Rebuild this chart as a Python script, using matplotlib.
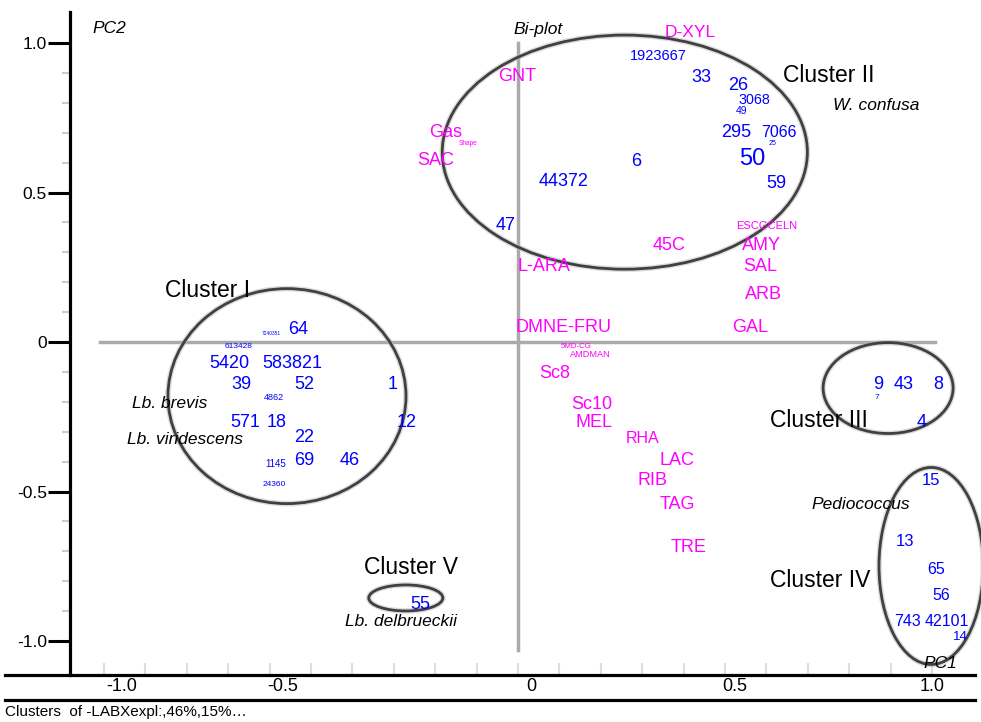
import matplotlib
matplotlib.use('Agg')
import matplotlib.pyplot as plt
from matplotlib.patches import Ellipse
from matplotlib.ticker import FixedLocator

plt.rcParams['font.family'] = ['Liberation Sans', 'DejaVu Sans']

# variables (magenta)
var_names = ['D-XYL', 'GNT', 'Gas', 'Shape', 'SAC', 'ESCGCELN', 'AMY', 'SAL', 'ARB',
             '45C', 'L-ARA', 'DMNE-FRU', 'GAL', '5MD-CG', 'AMDMAN', 'Sc8', 'Sc10',
             'MEL', 'RHA', 'LAC', 'RIB', 'TAG', 'TRE']
var_x = [0.415, -0.002, -0.174, -0.121, -0.198, 0.601, 0.589, 0.585, 0.592,
         0.365, 0.063, 0.111, 0.560, 0.140, 0.174, 0.089, 0.179,
         0.184, 0.302, 0.384, 0.324, 0.386, 0.413]
var_y = [1.040, 0.893, 0.706, 0.666, 0.615, 0.391, 0.331, 0.258, 0.167,
         0.331, 0.258, 0.054, 0.054, -0.013, -0.040, -0.100, -0.201,
         -0.264, -0.318, -0.388, -0.458, -0.538, -0.682]

# cases (blue)
case_names = ['1923667', '33', '26', '3068', '49', '295', '7066', '25', '50', '6',
              '44372', '59', '47',
              '64', '7240351', '613428', '5420', '583821', '39', '52', '1', '4862',
              '571', '18', '12', '22', '1145', '69', '46', '24360',
              '9', '7', '43', '8', '4',
              '15', '13', '65', '56', '743', '42101', '14', '55']
case_x = [0.338, 0.444, 0.531, 0.572, 0.541, 0.527, 0.630, 0.614, 0.565, 0.285,
          0.111, 0.623, -0.031,
          -0.531, -0.597, -0.674, -0.698, -0.546, -0.669, -0.517, -0.302, -0.589,
          -0.659, -0.582, -0.268, -0.517, -0.585, -0.517, -0.406, -0.589,
          0.870, 0.867, 0.932, 1.014, 0.976,
          0.998, 0.935, 1.010, 1.022, 0.940, 1.036, 1.068, -0.237]
case_y = [0.963, 0.890, 0.866, 0.813, 0.776, 0.706, 0.706, 0.666, 0.619, 0.612,
          0.542, 0.538, 0.398,
          0.050, 0.030, -0.013, -0.064, -0.064, -0.134, -0.134, -0.134, -0.181,
          -0.264, -0.264, -0.264, -0.314, -0.405, -0.391, -0.391, -0.472,
          -0.134, -0.181, -0.134, -0.134, -0.264,
          -0.458, -0.662, -0.756, -0.843, -0.930, -0.930, -0.980, -0.870]

# clusters: ellipse centre / width / height and label position
cluster_names = ['Cluster I', 'Cluster II', 'Cluster III', 'Cluster IV', 'Cluster V']
cluster_cx = [-0.558, 0.258, 0.894, 0.998, -0.271]
cluster_cy = [-0.181, 0.635, -0.154, -0.749, -0.856]
cluster_w = [0.575, 0.882, 0.314, 0.252, 0.179]
cluster_h = [0.719, 0.783, 0.304, 0.659, 0.087]
cluster_lx = [-0.751, 0.751, 0.727, 0.729, -0.258]
cluster_ly = [0.181, 0.900, -0.254, -0.789, -0.746]

# species / axis names (italic)
note_names = ['W. confusa', 'Lb. brevis', 'Lb. viridescens', 'Pediococcus',
              'Lb. delbrueckii', 'Bi-plot', 'PC2', 'PC1']
note_x = [0.865, -0.841, -0.804, 0.829, -0.283, 0.048, -0.986, 1.019]
note_y = [0.796, -0.201, -0.321, -0.538, -0.930, 1.050, 1.054, -1.070]

x_ticks = [-0.957, -0.568, 0.031, 0.524, 1.0]
x_tick_labels = ['-1.0', '-0.5', '0', '0.5', '1.0']
y_ticks = [-1.0, -0.5, 0.0, 0.5, 1.0]
y_tick_labels = ['-1.0', '-0.5', '0', '0.5', '1.0']

# label sizes that differ from the default
case_size = {'1923667': 10.5, '3068': 10.3, '49': 7.5, '7066': 11.5, '25': 5,
             '50': 17, '7240351': 3.5, '613428': 6, '4862': 6.5, '1145': 7,
             '24360': 6, '7': 6, '14': 9.5, '15': 12, '13': 12, '65': 11.5,
             '56': 11.5, '743': 11.5, '42101': 11.5}
var_size = {'Shape': 4.7, 'ESCGCELN': 8, '5MD-CG': 5.7, 'AMDMAN': 6.6,
            'RHA': 11.5, 'D-XYL': 12.5}

W, H = 981, 722
fig = plt.figure(figsize=(W / 100, H / 100), dpi=100)
ax = fig.add_axes([70 / W, (H - 675) / H, 905 / W, 663 / H])
ax.set_xlim(-1.0821, 1.1039)
ax.set_ylim(-1.1137, 1.1037)

for s in ['top', 'right', 'bottom']:
    ax.spines[s].set_visible(False)
ax.spines['left'].set_linewidth(2.3)

ax.set_yticks(y_ticks)
ax.set_yticklabels(y_tick_labels, fontsize=12.5)
ax.yaxis.set_minor_locator(FixedLocator([i / 10 for i in range(-10, 11) if i % 5 != 0]))
ax.tick_params(axis='y', which='major', length=16, width=2.2, pad=0.5)
ax.tick_params(axis='y', which='minor', length=6, width=1.5, color='#cccccc')
ax.set_xticks([])
ax.xaxis.set_minor_locator(FixedLocator([i / 10 for i in range(-10, 11)]))
ax.tick_params(axis='x', which='minor', direction='in', length=9, width=1.5, color='#dddddd')

# reference lines
ax.plot([-1.01, 1.007], [0, 0], color='#aaaaaa', lw=2.5, zorder=1)
ax.plot([0, 0], [1.0, -1.03], color='#aaaaaa', lw=2.5, zorder=1)

# cluster ellipses
for cx, cy, w, h in zip(cluster_cx, cluster_cy, cluster_w, cluster_h):
    ax.add_patch(Ellipse((cx, cy), w, h, fill=False, ec='#bbbbbb', lw=4, alpha=0.5,
                         zorder=2, clip_on=False))
    ax.add_patch(Ellipse((cx, cy), w, h, fill=False, ec='#404040', lw=2, zorder=3,
                         clip_on=False))

for n, x, y in zip(cluster_names, cluster_lx, cluster_ly):
    ax.text(x, y, n, fontsize=16.5, color='black', ha='center', va='center_baseline', zorder=5)

for n, x, y in zip(note_names, note_x, note_y):
    ax.text(x, y, n, fontsize=12.5, style='italic', color='black', ha='center',
            va='center_baseline', zorder=5)

for n, x, y in zip(var_names, var_x, var_y):
    ax.text(x, y, n, fontsize=var_size.get(n, 13), color='#ff00ff', ha='center',
            va='center_baseline', zorder=5)

for n, x, y in zip(case_names, case_x, case_y):
    ax.text(x, y, n, fontsize=case_size.get(n, 13), color='#0000ff', ha='center',
            va='center_baseline', zorder=5)

# bottom axis strip
bx = fig.add_axes([5 / W, (H - 700) / H, 970 / W, 25 / H])
bx.set_xlim(-1.2391, 1.1039)
bx.set_ylim(0, 1)
bx.patch.set_visible(False)
for s in ['left', 'right']:
    bx.spines[s].set_visible(False)
bx.spines['top'].set_linewidth(2.3)
bx.spines['bottom'].set_linewidth(2.3)
bx.set_yticks([])
bx.set_xticks(x_ticks)
bx.set_xticklabels(x_tick_labels, fontsize=13,
                   family=['Liberation Sans Narrow', 'Liberation Sans', 'DejaVu Sans'])
bx.tick_params(axis='x', length=0, pad=-16)

fig.text(5 / W, 1 - 712 / H, 'Clusters  of -LABXexpl:,46%,15%\u2026', fontsize=11,
         family=['Liberation Sans Narrow', 'Liberation Sans', 'DejaVu Sans'],
         ha='left', va='center')

fig.savefig('out.png', dpi=100)
plt.close(fig)
